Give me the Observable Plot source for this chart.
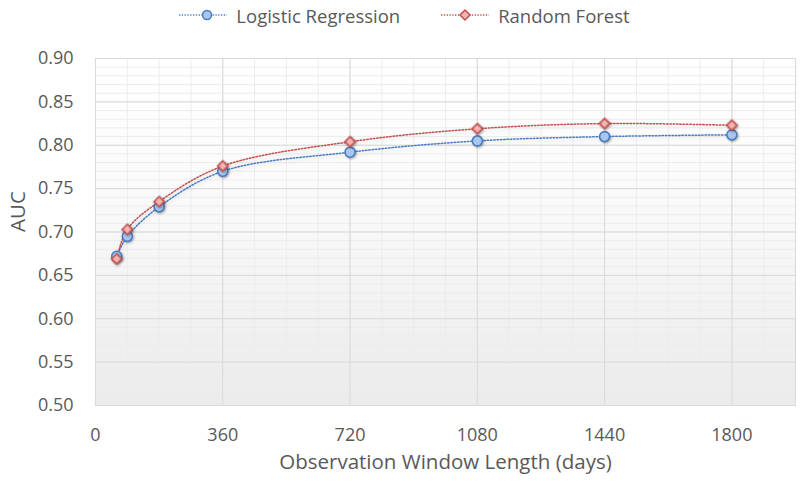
<!DOCTYPE html>
<html>
<head>
<meta charset="utf-8">
<script src="https://cdn.jsdelivr.net/npm/d3@7"></script>
<script src="https://cdn.jsdelivr.net/npm/@observablehq/plot@0.6"></script>
<style>
  html, body { margin: 0; padding: 0; background: #ffffff; }
  body { width: 800px; height: 486px; overflow: hidden; font-family: "Open Sans", sans-serif; }
  #legend { height: 30px; display: flex; justify-content: center; align-items: center; gap: 40px; color: #595959; font-size: 18.5px; padding-left: 8px; }
  #legend .item { display: flex; align-items: center; gap: 8px; }
  #chart svg g[aria-label="dot"] { filter: drop-shadow(1px 1.5px 1px rgba(0,0,0,0.35)); }
  #chart svg g[aria-label="line"] { filter: drop-shadow(0px 2px 2px rgba(0,0,0,0.12)); }
</style>
</head>
<body>
<div id="legend"></div>
<div id="chart"></div>
<script>
// ---- data ----
const days = [60, 90, 180, 360, 720, 1080, 1440, 1800];
const lrAUC = [0.672, 0.695, 0.729, 0.770, 0.792, 0.805, 0.810, 0.812];
const rfAUC = [0.669, 0.703, 0.735, 0.776, 0.804, 0.819, 0.825, 0.823];
const seriesNames = ["Logistic Regression", "Random Forest"];
const xTicks = [0, 360, 720, 1080, 1440, 1800];
const yTicks = [0.50, 0.55, 0.60, 0.65, 0.70, 0.75, 0.80, 0.85, 0.90];
const xLabel = "Observation Window Length (days)";
const yLabel = "AUC";

// ---- styles ----
const strokeColors = {"Logistic Regression": "#4a7cc2", "Random Forest": "#c0504d"};
const fillColors = {"Logistic Regression": "#a8c6ee", "Random Forest": "#f4b4b2"};

const data = days.flatMap((d, i) => [
  {days: d, auc: lrAUC[i], model: seriesNames[0]},
  {days: d, auc: rfAUC[i], model: seriesNames[1]}
]);

// minor grid positions
const minorX = d3.range(0, 1980 + 1, 90);
const minorY = d3.range(0, 41).map(i => +(0.5 + i * 0.01).toFixed(2));

// ---- legend ----
const legend = d3.select("#legend");
seriesNames.forEach((name, k) => {
  const item = legend.append("div").attr("class", "item");
  const s = item.append("svg").attr("width", 50).attr("height", 16);
  s.append("line").attr("x1", 1).attr("x2", 49).attr("y1", 8).attr("y2", 8)
    .attr("stroke", strokeColors[name]).attr("stroke-width", 1.3).attr("stroke-dasharray", "1.3,1.5");
  if (k === 0) {
    s.append("circle").attr("cx", 29).attr("cy", 8).attr("r", 4.5)
      .attr("fill", fillColors[name]).attr("stroke", strokeColors[name]).attr("stroke-width", 1.5);
  } else {
    s.append("path").attr("d", "M25,3L30,8L25,13L20,8Z")
      .attr("fill", fillColors[name]).attr("stroke", strokeColors[name]).attr("stroke-width", 1.5);
  }
  item.append("span").text(name);
});

// ---- chart ----
const chart = Plot.plot({
  width: 800,
  height: 456,
  marginTop: 28,
  marginBottom: 81,
  marginLeft: 95,
  marginRight: 5,
  style: {fontFamily: "'Open Sans', sans-serif", fontSize: "18px", color: "#595959", background: "transparent", overflow: "visible"},
  x: {domain: [0, 1980], ticks: xTicks, tickSize: 0, tickPadding: 23, label: null, tickFormat: d => String(d)},
  y: {domain: [0.5, 0.9], ticks: yTicks, tickSize: 0, tickPadding: 22, tickFormat: ".2f", label: null},
  marks: [
    Plot.frame({fill: "url(#plotBg)"}),
    Plot.ruleX(minorX, {stroke: "#ececec", strokeWidth: 1}),
    Plot.ruleY(minorY, {stroke: "#ececec", strokeWidth: 1}),
    Plot.ruleX(xTicks, {stroke: "#d9d9d9", strokeWidth: 1}),
    Plot.ruleY(yTicks, {stroke: "#d9d9d9", strokeWidth: 1}),
    Plot.frame({stroke: "#d9d9d9"}),
    Plot.line(data, {x: "days", y: "auc", z: "model", stroke: d => strokeColors[d.model],
      strokeWidth: 1.5, strokeDasharray: "1.5,1.8", curve: "catmull-rom"}),
    Plot.dot(data.filter(d => d.model === seriesNames[0]), {x: "days", y: "auc", r: 5, symbol: "circle",
      fill: fillColors[seriesNames[0]], stroke: strokeColors[seriesNames[0]], strokeWidth: 1.6}),
    Plot.dot(data.filter(d => d.model === seriesNames[1]), {x: "days", y: "auc", r: 4.6, symbol: "diamond2",
      fill: fillColors[seriesNames[1]], stroke: strokeColors[seriesNames[1]], strokeWidth: 1.6}),
    Plot.text([xLabel], {frameAnchor: "bottom", dy: 63, fill: "#595959", fontSize: 20.5}),
    Plot.text([yLabel], {frameAnchor: "left", dx: -77, rotate: -90, fill: "#595959", fontSize: 20.5})
  ]
});

// gradient background
const svgSel = d3.select(chart);
const defs = svgSel.insert("defs", ":first-child");
const grad = defs.append("linearGradient").attr("id", "plotBg")
  .attr("x1", 0).attr("y1", 0).attr("x2", 0).attr("y2", 1);
grad.append("stop").attr("offset", "0%").attr("stop-color", "#ffffff");
grad.append("stop").attr("offset", "35%").attr("stop-color", "#fbfbfb");
grad.append("stop").attr("offset", "100%").attr("stop-color", "#ebebeb");

document.getElementById("chart").appendChild(chart);
</script>
</body>
</html>
